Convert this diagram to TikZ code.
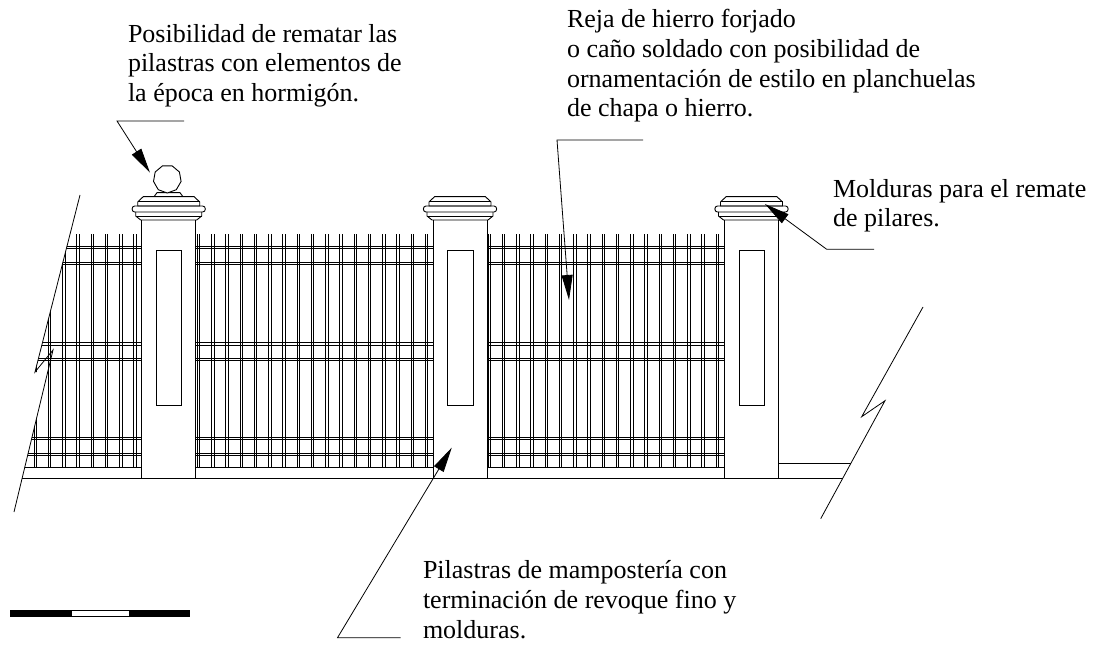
\documentclass[tikz,border=0pt]{standalone}
\usepackage{fontspec}
\setmainfont{Liberation Serif}
\usetikzlibrary{arrows.meta}
\tikzset{
  ln/.style={line width=0.9pt,black,line cap=butt,line join=miter},
  leader/.style={line width=0.8pt,black,-{Triangle[length=25pt,width=11pt]},shorten >=0pt},
  leadline/.style={line width=0.8pt,black},
  note/.style={anchor=base west,inner sep=0pt,outer sep=0pt,align=left,font=\fontsize{26}{29.7}\selectfont},
}
\newcommand{\pickets}[4]{% start, step, last index, top
  \foreach \i in {0,...,#3}{
    \pgfmathsetmacro{\xa}{#1+#2*\i}
    \draw[ln] (\xa-1.2,#4) -- (\xa-1.2,467);
    \draw[ln] (\xa+1.2,#4) -- (\xa+1.2,467);
  }}
\newcommand{\rails}[2]{%
  \foreach \y in {246.5,248.6,262.3,264.6,342.7,345,358,360.5,437,439.8,453,455.7}{
    \draw[ln] (#1,\y) -- (#2,\y);
  }
  \draw[ln] (#1,467) -- (#2,467);
}
\newcommand{\postcap}[1]{%
  \begin{scope}[shift={(#1,0)}]
    \draw[ln] (-25.5,196.7) -- (25.5,196.7) -- (31,202) -- (31,206) -- (-31,206) -- (-31,202) -- cycle;
    \draw[ln] (-31,201.7) -- (31,201.7);
    \draw[ln] (-34,206) -- (34,206) .. controls (37.5,206) and (37.5,212) .. (34,212)
              -- (-34,212) .. controls (-37.5,212) and (-37.5,206) .. (-34,206) -- cycle;
    \draw[ln] (-33,212) -- (-33,216) -- (-28,220) -- (28,220) -- (33,216) -- (33,212);
    \draw[ln] (-33,216) -- (33,216);
  \end{scope}
}
\newcommand{\pillar}[3]{% left, right, niche left
  \draw[ln] (#1,220) -- (#1,478.7);
  \draw[ln] (#2,220) -- (#2,478.7);
  \draw[ln] (#3,250) rectangle (#3+25.7,405);
}
\begin{document}
\begin{tikzpicture}[x=1pt,y=-1pt]
\useasboundingbox (0,0) rectangle (1108,647);
% left fence, cut by the break line
\begin{scope}
  \clip (80,195) -- (35,372) -- (47.7,372) -- (14,512) -- (141.7,512) -- (141.7,195) -- cycle;
  \pickets{135}{-14.25}{7}{234}
  \rails{20}{141.7}
  \draw[ln] (10,478.7) -- (141.7,478.7);
\end{scope}
% centre and right fence
\pickets{198.5}{14.25}{16}{234}
\rails{195.7}{433}
\pickets{489.3}{14.25}{16}{234}
\rails{487}{724.7}
% ground
\draw[ln] (141.7,478.7) -- (842.7,478.7);
\draw[ln] (778,463.7) -- (850.7,463.7);
% pillars
\pillar{141.7}{195.7}{156}
\pillar{433}{487}{447.7}
\pillar{724.7}{778}{739}
\postcap{168.7}
\postcap{460}
\postcap{751.5}
% finial
\draw[ln] (154,196.7) -- (157,192.7) -- (180,192.7) -- (183,196.7);
\draw[ln,fill=white] (167.3,179) +(90:14) -- +(50:14) -- +(10:14) -- +(-30:14) -- +(-70:14) -- +(-110:14) -- +(-150:14) -- +(170:14) -- +(130:14) -- cycle;
% break lines
\draw[leadline] (80,195) -- (35,372) -- (53,350) -- (14,512);
\draw[leadline] (923,307) -- (861.7,416.7) -- (885,400.7) -- (820.7,518.7);
% scale bar
\fill[black] (10,610) rectangle (190,616.7);
\draw[line width=0.7pt,black,fill=white] (71,610.7) rectangle (129,616);
% notes (anchored on the baseline of their last line)
\node[note] (n1) at (128,101.7) {Posibilidad de rematar las\\pilastras con elementos de\\la época en hormigón.};
\node[note] (n2) at (567,117) {Reja de hierro forjado\\o caño soldado con posibilidad de\\ornamentación de estilo en planchuelas\\de chapa o hierro.};
\node[note] (n3) at (833,226.7) {Molduras para el remate\\de pilares.};
\node[note] (n4) at (423,638) {Pilastras de mampostería con\\terminación de revoque fino y\\molduras.};
% leaders
\coordinate (a1) at (184,121); \coordinate (a2) at (117,121); \coordinate (a3) at (150,172.7);
\draw[leader] (a1) -- (a2) -- (a3);
\coordinate (b1) at (643,140); \coordinate (b2) at (557,140); \coordinate (b3) at (569,300);
\draw[leader] (b1) -- (b2) -- (b3);
\coordinate (c1) at (874,249.3); \coordinate (c2) at (826.7,249.3); \coordinate (c3) at (765,204);
\draw[leader] (c1) -- (c2) -- (c3);
\coordinate (d1) at (400.7,637.7); \coordinate (d2) at (337.5,637.7); \coordinate (d3) at (451.7,447.7);
\draw[leader] (d1) -- (d2) -- (d3);
\end{tikzpicture}
\end{document}
